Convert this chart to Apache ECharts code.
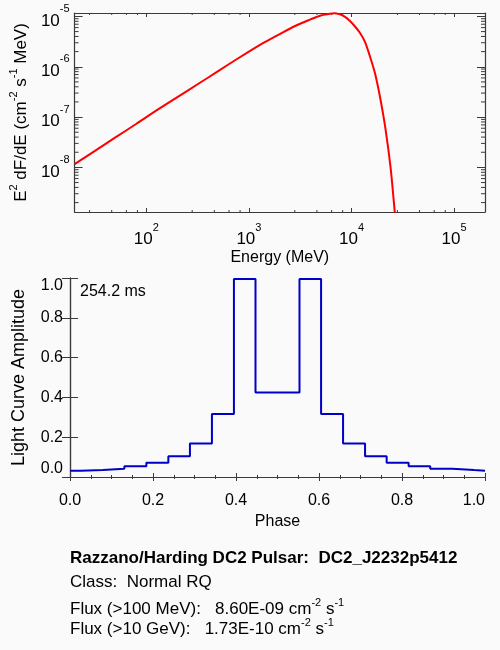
<!DOCTYPE html>
<html>
<head>
<meta charset="utf-8">
<script src="https://cdn.jsdelivr.net/npm/echarts@6/dist/echarts.min.js"></script>
<style>
  html, body { margin: 0; padding: 0; background: #fafafa; }
  #main { width: 500px; height: 650px; }
</style>
</head>
<body>
<div id="main"></div>
<script>
// top panel: E^2 dF/dE spectrum (MeV, cm^-2 s^-1 MeV)
var energy = [20, 31.6, 50, 79.4, 100, 158, 251, 398, 631, 1000, 1413, 1995, 2818, 3981, 5012, 6026, 6761, 7586, 8511, 9550, 10715, 12023, 13490, 15136, 16982, 19055, 21380, 23988, 26303, 28184];
var sedFlux = [1.16e-8, 2.13e-8, 3.94e-8, 7.28e-8, 1.0e-7, 1.83e-7, 3.33e-7, 6.05e-7, 1.11e-6, 2.0e-6, 3.05e-6, 4.47e-6, 6.46e-6, 8.71e-6, 1.047e-5, 1.12e-5, 1.153e-5, 1.11e-5, 1.0e-5, 8.32e-6, 6.46e-6, 4.79e-6, 3.16e-6, 1.6e-6, 7.26e-7, 2.37e-7, 6.03e-8, 1.02e-8, 1.41e-9, 3.2e-10];

// bottom panel: light curve bins (left edges) and amplitudes, last point closes the curve at 1.0
var phaseEdges = [0, 0.026, 0.079, 0.131, 0.184, 0.237, 0.289, 0.342, 0.395, 0.447, 0.553, 0.605, 0.658, 0.711, 0.763, 0.816, 0.868, 0.921, 0.974, 1.0];
var amplitude = [0.032, 0.035, 0.042, 0.054, 0.072, 0.104, 0.168, 0.317, 0.995, 0.425, 0.995, 0.317, 0.168, 0.104, 0.072, 0.054, 0.042, 0.035, 0.032, 0.032];

// axis ranges / minor tick mantissas
var energyRange = [20, 2e5];
var fluxRange = [1.3e-9, 1.17e-5];
var xMinorMant = [2.8, 4.6, 6.4, 8.2];
var xDecades = [10, 100, 1000, 10000];
var yMinorMant = [2, 3, 4, 5, 6, 7, 8, 9];
var yDecades = [1e-9, 1e-8, 1e-7, 1e-6];

var infoLines = [
  '{t|Razzano/Harding DC2 Pulsar:  DC2_J2232p5412}',
  '{t|Class:  Normal RQ}',
  '{t|Flux (>100 MeV):   8.60E-09 cm}{s|-2}{t| s}{s|-1}{h|\u200b}',
  '{t|Flux (>10 GeV):   1.73E-10 cm}{s|-2}{t| s}{s|-1}{h|\u200b}'
];
var infoTops = [550, 574, 597, 617];
var periodText = '254.2 ms';

var FONT = '"Liberation Sans", Arial, Helvetica, sans-serif';
var AXIS_COLOR = '#3a3a3a';

var xMinorTicks = [];
xDecades.forEach(function (d) {
  xMinorMant.forEach(function (m) {
    var v = m * d;
    if (v > energyRange[0] && v < energyRange[1]) xMinorTicks.push([v]);
  });
});
var yMinorTicks = [];
yDecades.forEach(function (d) {
  yMinorMant.forEach(function (m) {
    var v = m * d;
    if (v > fluxRange[0] && v < fluxRange[1]) yMinorTicks.push([v]);
  });
});

var sedData = energy.map(function (e, i) { return [e, sedFlux[i]]; });
var lcData = phaseEdges.map(function (p, i) { return [p, amplitude[i]]; });

// rich styles: h is an invisible spacer that makes the line tall so the superscript sits high
var powRich = {
  b: { fontSize: 17, lineHeight: 17, verticalAlign: 'bottom', fontFamily: FONT, color: '#000' },
  sup: { fontSize: 11, lineHeight: 10, verticalAlign: 'top', fontFamily: FONT, color: '#000' },
  h: { fontSize: 1, lineHeight: 26 }
};
function powLabel(v) {
  var e = Math.round(Math.log10(v));
  return '{b|10}{sup|' + e + '}{h|\u200b}';
}

var nameRich = {
  n: { fontSize: 17, lineHeight: 17, verticalAlign: 'bottom', fontFamily: FONT, color: '#000' },
  s: { fontSize: 11, lineHeight: 10, verticalAlign: 'top', fontFamily: FONT, color: '#000' },
  h: { fontSize: 1, lineHeight: 22 }
};

var lineStyleAxis = { color: AXIS_COLOR, width: 1.2 };

function logAxisX(pos, labels) {
  return {
    type: 'log', gridIndex: 0, position: pos, min: energyRange[0], max: energyRange[1],
    splitNumber: 5,
    axisLine: { show: true, lineStyle: lineStyleAxis },
    axisTick: { show: true, inside: true, length: 4, lineStyle: { color: AXIS_COLOR } },
    axisLabel: labels ? {
      show: true, margin: 10, formatter: powLabel, rich: powRich,
      showMinLabel: false, showMaxLabel: false
    } : { show: false },
    splitLine: { show: false },
    name: labels ? 'Energy (MeV)' : '',
    nameLocation: 'middle', nameGap: 38,
    nameTextStyle: { fontSize: 16, fontFamily: FONT, color: '#000' }
  };
}
function logAxisY(pos, labels) {
  return {
    type: 'log', gridIndex: 0, position: pos, min: fluxRange[0], max: fluxRange[1],
    splitNumber: 5,
    axisLine: { show: true, lineStyle: lineStyleAxis },
    axisTick: { show: true, inside: true, length: 8, lineStyle: { color: AXIS_COLOR } },
    axisLabel: labels ? {
      show: true, margin: 5, formatter: powLabel, rich: powRich,
      showMinLabel: false, showMaxLabel: false
    } : { show: false },
    splitLine: { show: false },
    name: labels ? '{n|E}{s|2}{n| dF/dE (cm}{s|-2}{n| s}{s|-1}{n| MeV)}{h|\u200b}' : '',
    nameLocation: 'middle', nameGap: 44,
    nameTextStyle: { rich: nameRich }
  };
}
function phaseAxis(pos, labels) {
  return {
    type: 'value', gridIndex: 1, position: pos, min: 0, max: 1, interval: 0.2,
    axisLine: { show: true, lineStyle: lineStyleAxis },
    axisTick: { show: true, inside: true, length: 4, lineStyle: { color: AXIS_COLOR } },
    minorTick: { show: true, splitNumber: 4, length: 2, lineStyle: { color: AXIS_COLOR } },
    axisLabel: labels ? {
      show: true, margin: 16, fontSize: 16, fontFamily: FONT, color: '#000',
      formatter: function (v) { return v.toFixed(1); },
      alignMaxLabel: 'right'
    } : { show: false },
    splitLine: { show: false },
    name: labels ? 'Phase' : '',
    nameLocation: 'middle', nameGap: 37,
    nameTextStyle: { fontSize: 16, fontFamily: FONT, color: '#000' }
  };
}
function ampAxis(pos, labels) {
  return {
    type: 'value', gridIndex: 1, position: pos, min: 0, max: 1, interval: 0.2,
    axisLine: { show: true, lineStyle: lineStyleAxis },
    axisTick: { show: true, inside: true, length: 8, lineStyle: { color: AXIS_COLOR } },
    axisLabel: labels ? {
      show: true, margin: 7, fontSize: 16, fontFamily: FONT, color: '#000',
      formatter: function (v) { return v.toFixed(1); },
      verticalAlignMinLabel: 'bottom', verticalAlignMaxLabel: 'top'
    } : { show: false },
    splitLine: { show: false },
    name: labels ? 'Light Curve Amplitude' : '',
    nameLocation: 'middle', nameGap: 42,
    nameTextStyle: { fontSize: 18, fontFamily: FONT, color: '#000' }
  };
}

function tickLine(x1, y1, x2, y2) {
  return { type: 'line', shape: { x1: x1, y1: y1, x2: x2, y2: y2 }, style: { stroke: AXIS_COLOR, lineWidth: 1 } };
}

var graphics = [{
  type: 'text', left: 80, top: 284,
  style: { text: periodText, font: '16px ' + FONT, fill: '#000' }
}];
infoLines.forEach(function (t, i) {
  graphics.push({
    type: 'text', left: 70, top: infoTops[i],
    style: {
      text: t,
      font: '17px ' + FONT,
      fill: '#000',
      rich: {
        t: { fontSize: 17, lineHeight: 17, verticalAlign: 'bottom', fontWeight: i === 0 ? 'bold' : 'normal', fontFamily: FONT, fill: '#000' },
        s: { fontSize: 11, lineHeight: 9, verticalAlign: 'top', fontFamily: FONT, fill: '#000' },
        h: { fontSize: 1, lineHeight: 21 }
      }
    }
  });
});

var chart = echarts.init(document.getElementById('main'), null, { renderer: 'canvas' });
chart.setOption({
  backgroundColor: '#fafafa',
  animation: false,
  textStyle: { fontFamily: FONT },
  grid: [
    { left: 70, top: 13, width: 415, height: 199 },
    { left: 70, top: 278, width: 415, height: 199 }
  ],
  xAxis: [
    logAxisX('bottom', true),
    logAxisX('top', false),
    phaseAxis('bottom', true),
    phaseAxis('top', false)
  ],
  yAxis: [
    logAxisY('left', true),
    logAxisY('right', false),
    ampAxis('left', true),
    ampAxis('right', false)
  ],
  graphic: graphics,
  series: [
    {
      name: 'spectrum', type: 'line', xAxisIndex: 0, yAxisIndex: 0,
      data: sedData, smooth: 0.3, showSymbol: false, clip: true,
      lineStyle: { color: '#ff0000', width: 2 }
    },
    {
      name: 'xminor', type: 'custom', xAxisIndex: 0, yAxisIndex: 0, silent: true,
      data: xMinorTicks,
      renderItem: function (params, api) {
        var cs = params.coordSys;
        var px = api.coord([api.value(0), 1e-6])[0];
        return { type: 'group', children: [
          tickLine(px, cs.y + cs.height, px, cs.y + cs.height - 2),
          tickLine(px, cs.y, px, cs.y + 2)
        ] };
      }
    },
    {
      name: 'yminor', type: 'custom', xAxisIndex: 0, yAxisIndex: 0, silent: true,
      data: yMinorTicks,
      renderItem: function (params, api) {
        var cs = params.coordSys;
        var py = api.coord([1000, api.value(0)])[1];
        return { type: 'group', children: [
          tickLine(cs.x, py, cs.x + 4, py),
          tickLine(cs.x + cs.width, py, cs.x + cs.width - 4, py)
        ] };
      }
    },
    {
      name: 'light curve', type: 'line', xAxisIndex: 2, yAxisIndex: 2,
      data: lcData, step: 'end', showSymbol: false, clip: true,
      lineStyle: { color: '#0000c8', width: 2 }
    }
  ]
});
</script>
</body>
</html>
